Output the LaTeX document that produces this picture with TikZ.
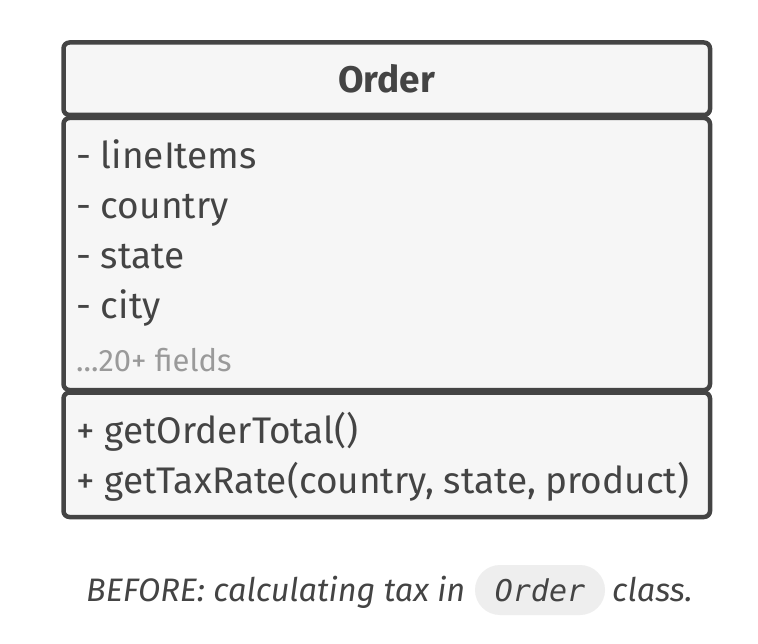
\documentclass[tikz,border=0pt]{standalone}
\usepackage{fontspec}
\setmainfont{Fira Sans}
\newfontfamily\codefont{DejaVu Sans Mono}
\definecolor{ink}{HTML}{444444}
\definecolor{boxfill}{HTML}{F6F6F6}
\definecolor{faint}{HTML}{9A9A9A}
\definecolor{pill}{HTML}{EEEEEE}
\begin{document}
\begin{tikzpicture}[x=1pt,y=-1pt,
  compart/.style={draw=ink,fill=boxfill,line width=4.5pt,rounded corners=6pt},
  member/.style={anchor=base west,inner sep=0pt,text=ink,font=\fontsize{37}{40}\selectfont},
  extra/.style={anchor=base west,inner sep=0pt,text=faint,font=\fontsize{31}{34}\selectfont},
  title/.style={anchor=base,inner sep=0pt,text=ink,font=\fontsize{37}{40}\selectfont\bfseries},
  caption/.style={anchor=base west,inner sep=0pt,text=ink,font=\fontsize{32.5}{36}\selectfont\itshape}]
\useasboundingbox[fill=white] (0,0) rectangle (758,644);
\path[compart] (63.5,42.5) rectangle (710,115);
\path[compart] (63.5,118) rectangle (710,390);
\path[compart] (63.5,392.5) rectangle (710,517);
\node[title] (cls) at (386.75,93) {Order};
\node[member] (a1) at (76,169) {- lineItems};
\node[member] (a2) at (76,219) {- country};
\node[member] (a3) at (76,269) {- state};
\node[member] (a4) at (76,319) {- city};
\node[extra] (a5) at (76,372) {...20+ fields};
\node[member] (m1) at (76,443) {+ getOrderTotal()};
\node[member] (m2) at (76,493) {+ getTaxRate(country, state, product)};
\node[caption] (c1) at (86,601) {BEFORE: calculating tax in};
\path[fill=pill,rounded corners=25pt] (475,565) rectangle (605,615);
\node[anchor=base,inner sep=0pt,text=ink,font=\fontsize{30}{34}\selectfont\codefont\slshape] (code) at (540,601) {Order};
\node[caption] (c2) at (612,601) {class.};
\end{tikzpicture}
\end{document}
